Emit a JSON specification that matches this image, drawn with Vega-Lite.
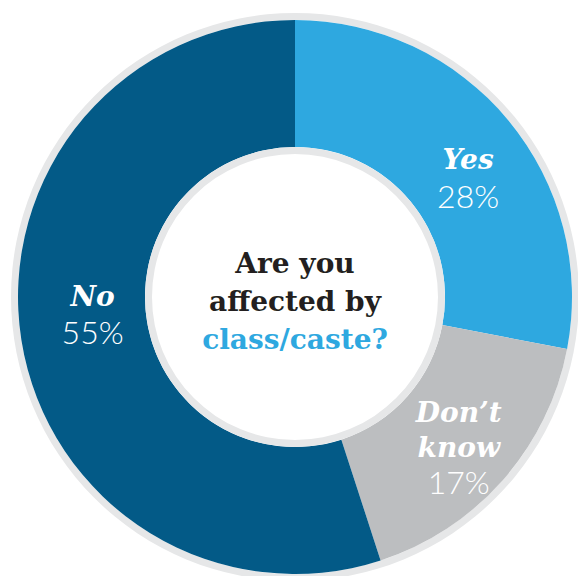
{
  "$schema": "https://vega.github.io/schema/vega-lite/v6.json",
  "width": 566,
  "height": 558,
  "autosize": {"type": "none"},
  "padding": {"left": 12, "top": 18, "right": 0, "bottom": 0},
  "background": "white",
  "config": {"view": {"stroke": null}},
  "data": {
    "values": [
      {"cat": "Yes", "label": "Yes", "pct": 28, "pctLabel": "28%", "rank": 1},
      {"cat": "Don't know", "label": "Don’t know", "pct": 17, "pctLabel": "17%", "rank": 2},
      {"cat": "No", "label": "No", "pct": 55, "pctLabel": "55%", "rank": 3}
    ]
  },
  "layer": [
    {
      "data": {"values": [{"ring": "outer"}]},
      "mark": {"type": "arc", "radius": 284, "radius2": 277, "color": "#e6e7e8"},
      "encoding": {}
    },
    {
      "mark": {"type": "arc", "radius": 277, "radius2": 150},
      "encoding": {
        "theta": {"field": "pct", "type": "quantitative", "stack": true},
        "order": {"field": "rank", "type": "quantitative"},
        "color": {
          "field": "cat",
          "type": "nominal",
          "scale": {"domain": ["Yes", "Don't know", "No"], "range": ["#2ea8e0", "#bcbec0", "#035a87"]},
          "legend": null
        }
      }
    },
    {
      "data": {"values": [{"ring": "inner"}]},
      "mark": {"type": "arc", "radius": 150, "radius2": 143, "color": "#e6e7e8"},
      "encoding": {}
    },
    {
      "mark": {"type": "text", "radius": 213, "font": "DejaVu Serif", "fontWeight": "bold", "fontStyle": "italic", "fontSize": 28, "color": "white", "align": "center", "baseline": "alphabetic", "dx": 9, "dy": 8},
      "encoding": {
        "theta": {"field": "pct", "type": "quantitative", "stack": true},
        "order": {"field": "rank", "type": "quantitative"},
        "text": {"condition": {"test": "datum.cat === 'Yes'", "field": "label"}, "value": ""}
      }
    },
    {
      "mark": {"type": "text", "radius": 213, "font": "Lato", "fontWeight": 300, "fontSize": 32, "color": "white", "align": "center", "baseline": "alphabetic", "dx": 9, "dy": 47},
      "encoding": {
        "theta": {"field": "pct", "type": "quantitative", "stack": true},
        "order": {"field": "rank", "type": "quantitative"},
        "text": {"condition": {"test": "datum.cat === 'Yes'", "field": "pctLabel"}, "value": ""}
      }
    },
    {
      "mark": {"type": "text", "radius": 213, "font": "DejaVu Serif", "fontWeight": "bold", "fontStyle": "italic", "fontSize": 28, "color": "white", "align": "center", "baseline": "alphabetic", "dx": 4, "dy": -16, "lineBreak": " ", "lineHeight": 35},
      "encoding": {
        "theta": {"field": "pct", "type": "quantitative", "stack": true},
        "order": {"field": "rank", "type": "quantitative"},
        "text": {"condition": {"test": "datum.cat === \"Don't know\"", "field": "label"}, "value": ""}
      }
    },
    {
      "mark": {"type": "text", "radius": 213, "font": "Lato", "fontWeight": 300, "fontSize": 32, "color": "white", "align": "center", "baseline": "alphabetic", "dx": 4, "dy": 56},
      "encoding": {
        "theta": {"field": "pct", "type": "quantitative", "stack": true},
        "order": {"field": "rank", "type": "quantitative"},
        "text": {"condition": {"test": "datum.cat === \"Don't know\"", "field": "pctLabel"}, "value": ""}
      }
    },
    {
      "mark": {"type": "text", "radius": 213, "font": "DejaVu Serif", "fontWeight": "bold", "fontStyle": "italic", "fontSize": 28, "color": "white", "align": "center", "baseline": "alphabetic", "dx": 8, "dy": -24},
      "encoding": {
        "theta": {"field": "pct", "type": "quantitative", "stack": true},
        "order": {"field": "rank", "type": "quantitative"},
        "text": {"condition": {"test": "datum.cat === 'No'", "field": "label"}, "value": ""}
      }
    },
    {
      "mark": {"type": "text", "radius": 213, "font": "Lato", "fontWeight": 300, "fontSize": 32, "color": "white", "align": "center", "baseline": "alphabetic", "dx": 8, "dy": 14},
      "encoding": {
        "theta": {"field": "pct", "type": "quantitative", "stack": true},
        "order": {"field": "rank", "type": "quantitative"},
        "text": {"condition": {"test": "datum.cat === 'No'", "field": "pctLabel"}, "value": ""}
      }
    },
    {
      "data": {"values": [{"q": "Are you\naffected by"}]},
      "mark": {"type": "text", "font": "DejaVu Serif", "fontWeight": "bold", "fontSize": 28, "color": "#231f20", "align": "center", "baseline": "alphabetic", "lineBreak": "\n", "lineHeight": 38, "dy": -24},
      "encoding": {
        "theta": {"value": 0},
        "radius": {"value": 0},
        "text": {"field": "q"}
      }
    },
    {
      "data": {"values": [{"q": "class/caste?"}]},
      "mark": {"type": "text", "font": "DejaVu Serif", "fontWeight": "bold", "fontSize": 28, "color": "#2ea8e0", "align": "center", "baseline": "alphabetic", "dy": 52},
      "encoding": {
        "theta": {"value": 0},
        "radius": {"value": 0},
        "text": {"field": "q"}
      }
    }
  ]
}
